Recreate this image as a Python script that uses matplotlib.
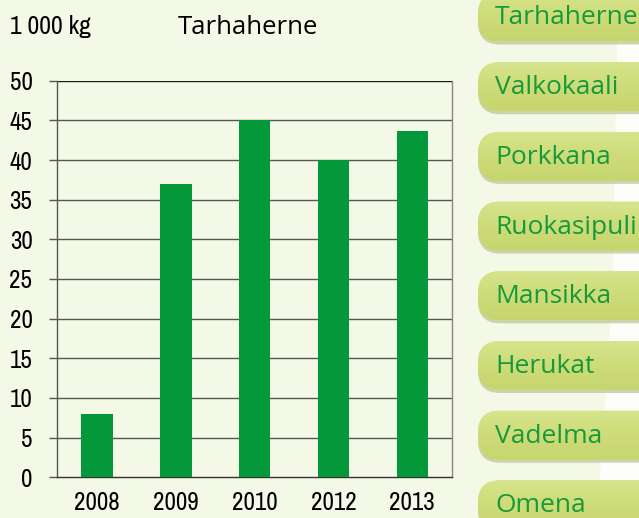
import matplotlib
matplotlib.use("Agg")
import matplotlib.pyplot as plt
import numpy as np
from matplotlib.patches import FancyBboxPatch, Polygon
from matplotlib.colors import LinearSegmentedColormap

# data
years = ["2008", "2009", "2010", "2012", "2013"]
values = [8, 37, 45, 40, 43.7]
yticks = [0, 5, 10, 15, 20, 25, 30, 35, 40, 45, 50]
buttons = ["Tarhaherne", "Valkokaali", "Porkkana", "Ruokasipuli",
           "Mansikka", "Herukat", "Vadelma", "Omena"]

W, H = 639, 518
bg = "#F4F8E6"
bar_green = "#03983A"

narrow = ["Archivo Narrow", "Liberation Sans", "DejaVu Sans"]
humanist = ["Open Sans", "DejaVu Sans"]

fig = plt.figure(figsize=(W / 100, H / 100), dpi=100)
fig.patch.set_facecolor(bg)

# overlay in pixel coordinates for buttons and texts
ov = fig.add_axes([0, 0, 1, 1], zorder=0)
ov.axis("off")

# white strip at the right edge
ov.add_patch(Polygon([[618, 0], [W, 0], [W, H], [597, H], [612, 300]],
                     closed=True, facecolor="#FDFEFA", edgecolor="none"))

grad = np.linspace(0, 1, 64).reshape(-1, 1)
cmap = LinearSegmentedColormap.from_list("btn", ["#D6E48C", "#CDDC78", "#C6D56E"])
for i, name in enumerate(buttons):
    cy = 17 + 69.7 * i
    top = cy - 24.5
    shadow = FancyBboxPatch((478, top + 3), 200, 49,
                            boxstyle="round,pad=0,rounding_size=22",
                            facecolor="#AEB98A", edgecolor="none", alpha=0.6)
    ov.add_patch(shadow)
    box = FancyBboxPatch((478, top), 200, 49,
                         boxstyle="round,pad=0,rounding_size=22",
                         facecolor="#CDDC78", edgecolor="none")
    ov.add_patch(box)
    im = ov.imshow(grad, cmap=cmap, extent=[478, 680, top + 49, top],
                   aspect="auto", zorder=2)
    im.set_clip_path(box)
    ov.text(495, cy + 1, name, color="#17993B", fontsize=19,
            family=humanist, va="center", ha="left", zorder=3)
ov.set_xlim(0, W)
ov.set_ylim(H, 0)

ov.text(10, 27, "1 000 kg", fontsize=18.5, family=narrow, va="center", ha="left")
ov.text(248, 27, "Tarhaherne", fontsize=18.5, family=humanist, va="center", ha="center")

# chart
ax = fig.add_axes([57.5 / W, (H - 477.3) / H, (451.7 - 57.5) / W, (477.3 - 80.7) / H],
                  zorder=1)
ax.set_facecolor("none")
x = np.arange(len(years))
ax.bar(x, values, width=0.4, color=bar_green, zorder=3)
ax.set_xlim(-0.5, len(years) - 0.5)
ax.set_ylim(0, 50)
ax.set_yticks(yticks)
ax.set_yticklabels([str(t) for t in yticks], family=narrow, fontsize=18)
ax.set_xticks(x)
ax.set_xticklabels(years, family=narrow, fontsize=18)
for t in yticks[1:]:
    ax.axhline(t, color="#1a1a1a" if t == 50 else "#555555", lw=1.0, zorder=1)
ax.tick_params(axis="y", length=6, width=1.0, color="#555555", pad=12)
ax.tick_params(axis="x", length=0, pad=10)
ax.spines["top"].set_visible(False)
ax.spines["left"].set_color("#555555")
ax.spines["right"].set_color("#8a8a80")
ax.spines["bottom"].set_color("#333333")
for s in ax.spines.values():
    s.set_linewidth(1.0)

fig.savefig("out.png", dpi=100, facecolor=bg)
